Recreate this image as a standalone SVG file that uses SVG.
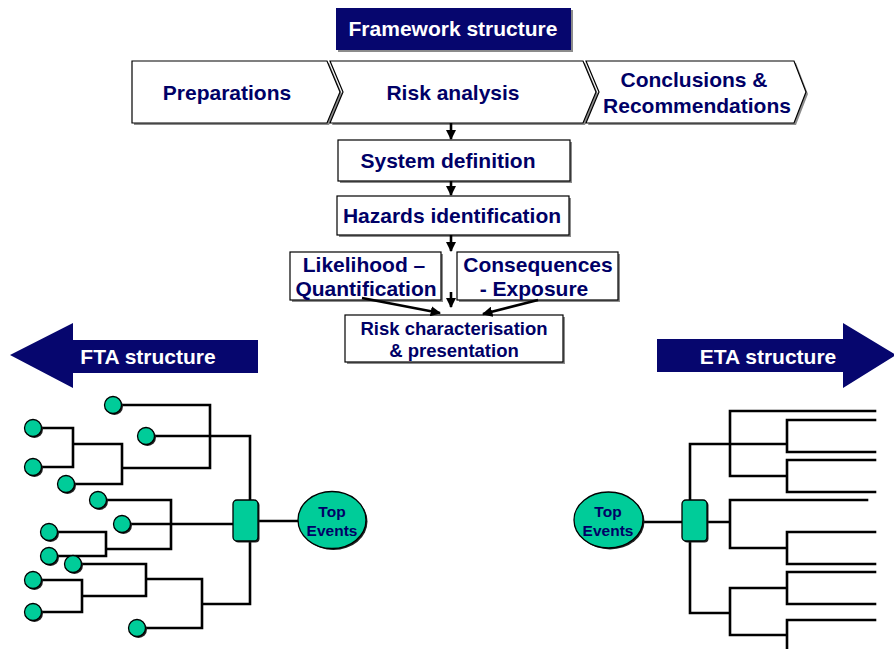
<svg xmlns="http://www.w3.org/2000/svg" width="894" height="649" viewBox="0 0 894 649">
<defs>
<style>
.t{font-family:"Liberation Sans",Arial,sans-serif;font-weight:bold;fill:#000066;text-anchor:middle}
.w{fill:#fff}
.box{fill:#fff;stroke:#000;stroke-width:1.2}
.sh{fill:#8c8c8c}
.ln{fill:none;stroke:#000;stroke-width:2.6;stroke-linecap:square}
.ar{fill:none;stroke:#000;stroke-width:2.6}
.nv{fill:#06066e}
.leaf{fill:#00CC99;stroke:#000;stroke-width:1.3}
.lsh{fill:#222}
</style>
<marker id="ah" viewBox="0 0 10 10" refX="9" refY="5" markerWidth="4" markerHeight="4" orient="auto" markerUnits="strokeWidth">
<path d="M0,0 L10,5 L0,10 Z" fill="#000"/>
</marker>
</defs>

<g id="framework">
<rect x="338" y="10" width="235" height="42" class="sh"/>
<rect x="336" y="8" width="235" height="42" class="nv"/>
<text x="453" y="36" class="t w" font-size="21">Framework structure</text>
</g>

<g id="preparations">
<path d="M134,63 L329,63 L342,94 L329,125 L134,125 Z" class="sh"/>
<path d="M132,61 L327,61 L340,92 L327,123 L132,123 Z" class="box"/>
<text x="227" y="100" class="t" font-size="21">Preparations</text>
</g>
<g id="risk-analysis">
<path d="M332,63 L585,63 L598,94 L585,125 L332,125 L345,94 Z" class="sh"/>
<path d="M330,61 L583,61 L596,92 L583,123 L330,123 L343,92 Z" class="box"/>
<text x="453" y="100" class="t" font-size="21">Risk analysis</text>
</g>
<g id="conclusions">
<path d="M588,63 L796,63 L808,94 L796,125 L588,125 L601,94 Z" class="sh"/>
<path d="M586,61 L794,61 L806,92 L794,123 L586,123 L599,92 Z" class="box"/>
<text x="694" y="87" class="t" font-size="21">Conclusions &amp;</text>
<text x="697" y="113" class="t" font-size="21">Recommendations</text>
</g>

<g id="system-definition">
<rect x="340" y="142" width="232" height="41" class="sh"/>
<rect x="338" y="140" width="232" height="41" class="box"/>
<text x="448" y="168" class="t" font-size="21">System definition</text>
</g>
<g id="hazards">
<rect x="339" y="198" width="232" height="39" class="sh"/>
<rect x="337" y="196" width="232" height="39" class="box"/>
<text x="452" y="223" class="t" font-size="21">Hazards identification</text>
</g>
<g id="likelihood">
<rect x="292" y="254" width="151" height="48" class="sh"/>
<rect x="290" y="252" width="151" height="48" class="box"/>
<text x="364" y="272" class="t" font-size="21">Likelihood –</text>
<text x="366" y="296" class="t" font-size="21">Quantification</text>
</g>
<g id="consequences">
<rect x="459" y="254" width="161" height="48" class="sh"/>
<rect x="457" y="252" width="161" height="48" class="box"/>
<text x="538" y="272" class="t" font-size="21">Consequences</text>
<text x="534" y="296" class="t" font-size="21">- Exposure</text>
</g>
<g id="risk-characterisation">
<rect x="347" y="317" width="218" height="47" class="sh"/>
<rect x="345" y="315" width="218" height="47" class="box"/>
<text x="454" y="335" class="t" font-size="18.5">Risk characterisation</text>
<text x="454" y="357" class="t" font-size="18.5">&amp; presentation</text>
</g>

<g id="fta-arrow">
<path d="M10,355 L73,323 L73,340 L258,340 L258,373 L73,373 L73,388 Z" class="nv"/>
<text x="148" y="364" class="t w" font-size="21">FTA structure</text>
</g>
<g id="eta-arrow">
<path d="M657,339 L843,339 L843,323 L896,355 L843,388 L843,372 L657,372 Z" class="nv"/>
<text x="768" y="364" class="t w" font-size="21">ETA structure</text>
</g>

<g id="connectors">
<line x1="451" y1="123" x2="451" y2="139" class="ar" marker-end="url(#ah)"/>
<line x1="451" y1="181" x2="451" y2="195" class="ar" marker-end="url(#ah)"/>
<line x1="451" y1="235" x2="451" y2="251" class="ar" marker-end="url(#ah)"/>
<line x1="451" y1="292" x2="451" y2="307" class="ar" marker-end="url(#ah)"/>
<line x1="362" y1="298" x2="440" y2="313" class="ar" marker-end="url(#ah)"/>
<line x1="538" y1="300" x2="483" y2="314" class="ar" marker-end="url(#ah)"/>

<path class="ln" d="M113,405 H210 V468 H122 M33,428 H73 V467 H33 M73,444 H122 V484 H66 M146,436 H250 V500 M98,500 H171 V549 H106 M122,524 H233 M49,532 H106 V556 H49 M73,564 H146 V596 H82 M33,580 H82 V612 H33 M146,579 H202 V628 H137 M202,604 H250 V541 M258,521 H298"/>

<path class="ln" d="M643,522 H682 M690,500 V444 H787 M730,411 V476 H787 M730,411 H875 M787,420 V452 M787,420 H875 M787,452 H875 M787,460 V492 M787,460 H875 M787,492 H875 M707,522 H730 M730,500 V548 H787 M730,500 H867 M787,532 V564 M787,532 H875 M787,564 H875 M690,541 V613 H730 M730,588 V635 H787 M730,588 H787 M787,572 V604 M787,572 H875 M787,604 H875 M787,620 V649 M787,620 H875"/>
</g>

<g id="fta-leaves">
<circle cx="114.5" cy="406.5" r="8.5" class="lsh"/><circle cx="113" cy="405" r="8.5" class="leaf"/>
<circle cx="34.5" cy="429.5" r="8.5" class="lsh"/><circle cx="33" cy="428" r="8.5" class="leaf"/>
<circle cx="147.5" cy="437.5" r="8.5" class="lsh"/><circle cx="146" cy="436" r="8.5" class="leaf"/>
<circle cx="34.5" cy="468.5" r="8.5" class="lsh"/><circle cx="33" cy="467" r="8.5" class="leaf"/>
<circle cx="67.5" cy="485.5" r="8.5" class="lsh"/><circle cx="66" cy="484" r="8.5" class="leaf"/>
<circle cx="99.5" cy="501.5" r="8.5" class="lsh"/><circle cx="98" cy="500" r="8.5" class="leaf"/>
<circle cx="123.5" cy="525.5" r="8.5" class="lsh"/><circle cx="122" cy="524" r="8.5" class="leaf"/>
<circle cx="50.5" cy="533.5" r="8.5" class="lsh"/><circle cx="49" cy="532" r="8.5" class="leaf"/>
<circle cx="50.5" cy="557.5" r="8.5" class="lsh"/><circle cx="49" cy="556" r="8.5" class="leaf"/>
<circle cx="74.5" cy="565.5" r="8.5" class="lsh"/><circle cx="73" cy="564" r="8.5" class="leaf"/>
<circle cx="34.5" cy="581.5" r="8.5" class="lsh"/><circle cx="33" cy="580" r="8.5" class="leaf"/>
<circle cx="34.5" cy="613.5" r="8.5" class="lsh"/><circle cx="33" cy="612" r="8.5" class="leaf"/>
<circle cx="138.5" cy="629.5" r="8.5" class="lsh"/><circle cx="137" cy="628" r="8.5" class="leaf"/>
</g>

<g id="fta-gate">
<rect x="234.5" y="501.5" width="25" height="41" rx="4" class="lsh"/>
<rect x="233" y="500" width="25" height="41" rx="4" class="leaf"/>
</g>
<g id="eta-gate">
<rect x="683.5" y="501.5" width="25" height="41" rx="4" class="lsh"/>
<rect x="682" y="500" width="25" height="41" rx="4" class="leaf"/>
</g>

<g id="fta-top-events">
<ellipse cx="333.5" cy="521.5" rx="34" ry="28.5" class="lsh"/>
<ellipse cx="332" cy="520" rx="34" ry="28.5" class="leaf"/>
<text x="332" y="517" class="t" font-size="15.5">Top</text>
<text x="332" y="536" class="t" font-size="15.5">Events</text>
</g>
<g id="eta-top-events">
<ellipse cx="610" cy="521.5" rx="34.5" ry="28" class="lsh"/>
<ellipse cx="608.5" cy="520" rx="34.5" ry="28" class="leaf"/>
<text x="608" y="517" class="t" font-size="15.5">Top</text>
<text x="608" y="536" class="t" font-size="15.5">Events</text>
</g>
</svg>
